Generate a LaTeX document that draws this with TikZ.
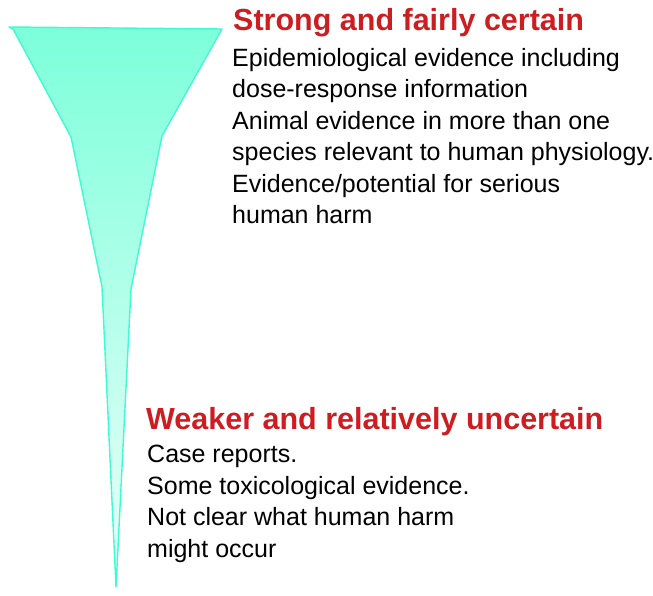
\documentclass[tikz,border=0pt]{standalone}
\usepackage{fontspec}
\setmainfont{Liberation Sans}
\definecolor{headred}{RGB}{204,30,32}
\definecolor{funneltop}{RGB}{124,255,218}
\definecolor{funnelbot}{RGB}{236,255,250}
\definecolor{funneledge}{RGB}{64,250,208}
\begin{document}
\begin{tikzpicture}[x=1pt,y=-1pt,
  head/.style={inner sep=0pt, anchor=base west, text=headred, font=\fontsize{30.5}{36}\selectfont\bfseries},
  body/.style={inner sep=0pt, anchor=base west, text=black, font=\fontsize{25}{30}\selectfont}]
\useasboundingbox (0,0) rectangle (653,596);
% funnel
\coordinate (tl) at (9,27);
\coordinate (tr) at (222,29);
\coordinate (tip) at (116,587);
\shade[top color=funneltop, bottom color=funnelbot]
  (tl) -- (tr) -- (162,136) -- (131,289) -- (tip) -- (102,287) -- (71,137) -- (13,29) -- cycle;
\draw[funneledge, line width=1.4pt, line join=round]
  (tl) -- (tr) -- (162,136) -- (131,289) -- (tip) -- (102,287) -- (71,137) -- (13,29) -- cycle;
% top block
\node[head] (h1) at (233,31) {Strong and fairly certain};
\node[body] (a1) at (232,66.5) {Epidemiological evidence including};
\node[body] (a2) at (232,98) {dose-response information};
\node[body] (a3) at (232,129.5) {Animal evidence in more than one};
\node[body] (a4) at (232,161) {species relevant to human physiology.};
\node[body] (a5) at (232,192.5) {Evidence/potential for serious};
\node[body] (a6) at (232,224) {human harm};
% bottom block
\node[head] (h2) at (146,429) {Weaker and relatively uncertain};
\node[body] (b1) at (147,462) {Case reports.};
\node[body] (b2) at (147,494) {Some toxicological evidence.};
\node[body] (b3) at (147,525.5) {Not clear what human harm};
\node[body] (b4) at (147,557) {might occur};
\end{tikzpicture}
\end{document}
